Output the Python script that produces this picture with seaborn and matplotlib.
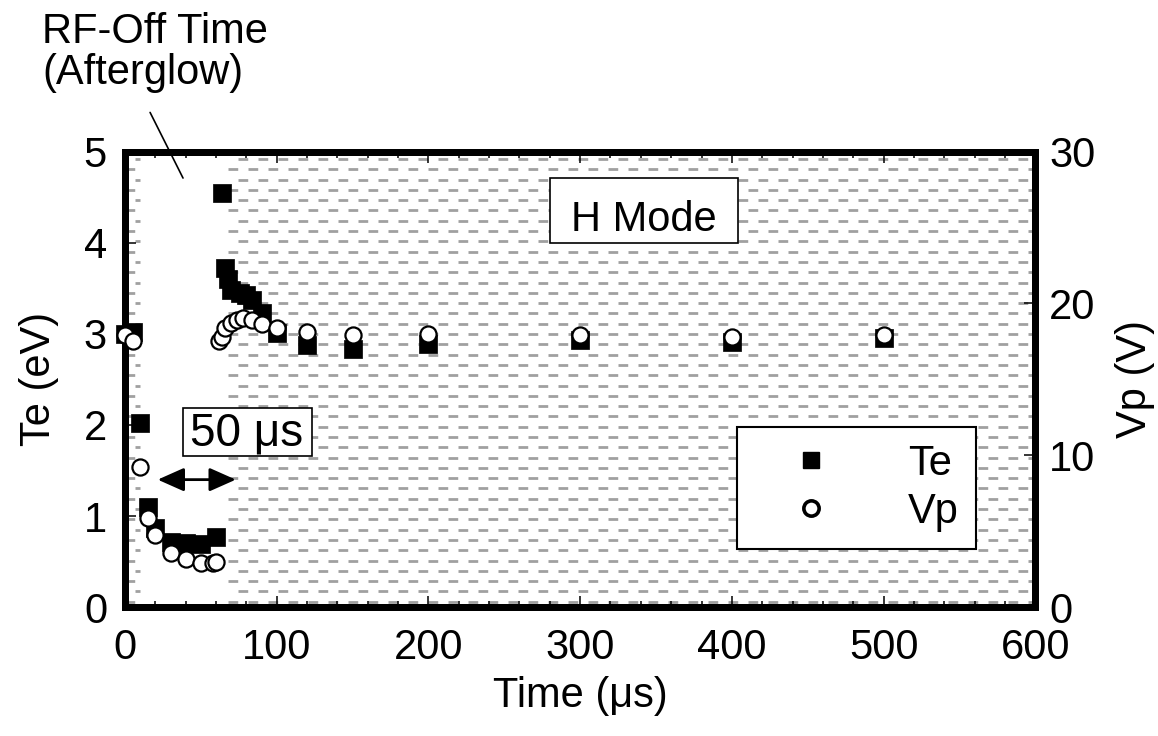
import numpy as np
import matplotlib
matplotlib.use("Agg")
import matplotlib.pyplot as plt
import seaborn as sns
from matplotlib.patches import Rectangle

# --- data ---
te_time = [0, 5, 10, 15, 20, 30, 40, 50, 60, 64, 66, 68, 70, 76, 80, 84, 90, 100, 120, 150, 200, 300, 400, 500]
te_vals = [3.00, 3.02, 2.02, 1.10, 0.87, 0.72, 0.70, 0.69, 0.77, 4.55, 3.72, 3.60, 3.48, 3.45, 3.43, 3.37, 3.23, 3.01, 2.88, 2.83, 2.89, 2.93, 2.91, 2.95]

vp_time = [0, 5, 10, 15, 20, 30, 40, 50, 58, 60, 62, 64, 66, 70, 74, 78, 84, 90, 100, 120, 150, 200, 300, 400, 500]
vp_vals = [17.9, 17.5, 9.2, 5.9, 4.75, 3.56, 3.16, 2.90, 2.90, 3.00, 17.5, 17.8, 18.4, 18.7, 18.9, 19.05, 18.9, 18.65, 18.4, 18.1, 17.9, 18.0, 17.9, 17.8, 17.9]

x_ticks = [0, 100, 200, 300, 400, 500, 600]
te_ticks = [0, 1, 2, 3, 4, 5]
vp_ticks = [0, 10, 20, 30]

# shaded (RF-on) spans, in us
shade_spans = [(0, 10), (68, 600)]

sns.set_theme(style="white")
plt.rcParams["font.family"] = ["Liberation Sans", "DejaVu Sans"]
plt.rcParams["lines.scale_dashes"] = False
for k in ("text.color", "axes.labelcolor", "xtick.color", "ytick.color"):
    plt.rcParams[k] = "black"
FS = 30

fig = plt.figure(figsize=(11.58, 7.36), dpi=100)
ax = fig.add_axes([0.108, 0.175, 0.786, 0.619])
ax2 = ax.twinx()

# dashed gray "brick" background
rows = np.arange(0.06, 5.0, 0.113)
for i, y in enumerate(rows):
    off = 0 if i % 2 == 0 else 7.2
    for x0, x1 in shade_spans:
        ax.plot([x0, x1], [y, y], color="#a0a0a0", lw=2.0,
                linestyle=(off, (7.0, 7.4)), zorder=0.5)

sns.scatterplot(x=te_time, y=te_vals, marker="s", s=150, color="black",
                edgecolor="black", linewidth=0.5, ax=ax, zorder=3,
                clip_on=False, legend=False)
sns.scatterplot(x=vp_time, y=vp_vals, marker="o", s=135, facecolor="white",
                edgecolor="black", linewidth=1.6, ax=ax2, zorder=4,
                clip_on=False, legend=False)

ax.set_xlim(0, 600)
ax.set_ylim(0, 5)
ax2.set_ylim(0, 30)
ax.set_xticks(x_ticks)
ax.set_xticks(np.arange(0, 601, 20), minor=True)
ax.set_yticks(te_ticks)
ax2.set_yticks(vp_ticks)

for a in (ax, ax2):
    for sp in a.spines.values():
        sp.set_linewidth(5)
        sp.set_color("black")

ax.tick_params(axis="x", which="both", direction="in", top=True, bottom=True,
               labelsize=FS, pad=15, width=1.1, color="black")
ax.tick_params(axis="x", which="major", length=8)
ax.tick_params(axis="x", which="minor", length=4.5)
ax.tick_params(axis="y", direction="in", left=True, right=False, length=8,
               width=1.1, labelsize=FS, pad=13, color="black")
ax2.tick_params(axis="y", direction="in", right=True, length=8, width=1.1,
                labelsize=FS, pad=10, color="black")

ax.set_xlabel("Time (\u03bcs)", fontsize=FS, labelpad=6)
ax.set_ylabel("Te (eV)", fontsize=FS, labelpad=18)
ax2.set_ylabel("Vp (V)", fontsize=FS, labelpad=14)

# text boxes
ax.add_patch(Rectangle((280.2, 4.00), 123.9, 0.71, facecolor="white",
                       edgecolor="black", lw=1.2, zorder=5))
ax.text(342, 4.13, "H Mode", fontsize=FS, ha="center", va="baseline", zorder=6)

ax.add_patch(Rectangle((38.2, 1.66), 85.1, 0.53, facecolor="white",
                       edgecolor="black", lw=1.2, zorder=5))
ax.text(80.3, 1.78, "50 \u03bcs", fontsize=33, ha="center", va="baseline", zorder=6)

ax.annotate("", xy=(73, 1.40), xytext=(21.5, 1.40),
            arrowprops=dict(arrowstyle="<|-|>,head_length=0.45,head_width=0.2",
                            color="black", lw=2, mutation_scale=36,
                            shrinkA=0, shrinkB=0), zorder=6)

# afterglow label with leader line
ax.annotate("", xy=(38.2, 4.71), xytext=(16.5, 5.43),
            arrowprops=dict(arrowstyle="-", color="black", lw=1.2,
                            shrinkA=0, shrinkB=0), annotation_clip=False)
fig.text(42 / 1158, 1 - 43 / 736, "RF-Off Time", fontsize=FS, va="baseline", ha="left")
fig.text(42 / 1158, 1 - 84 / 736, "(Afterglow)", fontsize=FS, va="baseline", ha="left")

# legend
h_te = plt.Line2D([], [], marker="s", ls="", color="black", markersize=12)
h_vp = plt.Line2D([], [], marker="o", ls="", markerfacecolor="white",
                  markeredgecolor="black", markeredgewidth=2.6, markersize=11)
leg = ax2.legend([h_te, h_vp], ["Te", "Vp"], loc="upper left",
                 bbox_to_anchor=(0.6725, 0.3956), borderaxespad=0,
                 fontsize=FS, frameon=True, fancybox=False, framealpha=1,
                 edgecolor="black", borderpad=0.4, handlelength=2.75,
                 handletextpad=0.95, labelspacing=0.2, numpoints=1)
leg.get_frame().set_linewidth(1.5)
leg.set_zorder(10)

fig.savefig("out.png", dpi=100)
